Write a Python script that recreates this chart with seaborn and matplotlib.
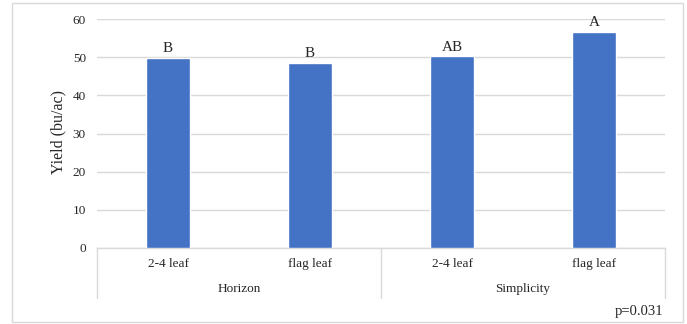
import matplotlib
matplotlib.use("Agg")
import matplotlib.pyplot as plt
import matplotlib.patches as mpatches
import seaborn as sns
import pandas as pd

# date
soiuri = ["Horizon", "Horizon", "Simplicity", "Simplicity"]
stadii = ["2-4 leaf", "flag leaf", "2-4 leaf", "flag leaf"]
randament = [49.9, 48.4, 50.2, 56.7]
litere = ["B", "B", "AB", "A"]
grupuri = ["Horizon", "Simplicity"]
p_text = "p=0.031"

df = pd.DataFrame({"soi": soiuri, "stadiu": stadii, "yield": randament})
df["cheie"] = df["soi"] + " " + df["stadiu"]

sns.set_style("white")
plt.rcParams["font.family"] = ["Liberation Serif", "DejaVu Serif"]

fig = plt.figure(figsize=(6.87, 3.24), dpi=100)
ax = fig.add_axes([97 / 687, 76 / 324, 568 / 687, 229 / 324])

sns.barplot(data=df, x="cheie", y="yield", color="#4472C4", width=0.31,
            saturation=1, ax=ax, zorder=3)

ax.set_ylim(0, 60)
ax.set_yticks(range(0, 61, 10))
ax.grid(axis="y", color="#d9d9d9", linewidth=1, zorder=0)
for s in ["top", "right", "left"]:
    ax.spines[s].set_visible(False)
ax.spines["bottom"].set_color("#d9d9d9")
ax.spines["bottom"].set_linewidth(1)
ax.set_xlim(-0.5, len(stadii) - 0.5)

ax.set_xticks(range(len(stadii)))
ax.set_xticklabels(stadii, fontsize=9.5)
ax.tick_params(axis="x", length=0, pad=7, colors="#262626")
ax.tick_params(axis="y", length=0, pad=8, labelsize=9.5, colors="#262626")
ax.set_xlabel("")
ax.set_ylabel("Yield (bu/ac)", fontsize=11.5, color="#262626")
ax.yaxis.set_label_coords(-0.054, 0.507)

# litere de semnificatie
for i, (v, l) in enumerate(zip(df["yield"], litere)):
    ax.annotate(l, (i, v), xytext=(0, 2), textcoords="offset points",
                ha="center", va="bottom", fontsize=11, color="#262626")

# axa pe doua niveluri
tr = ax.get_xaxis_transform()
for x in [-0.5, 1.5, 3.5]:
    ax.plot([x, x], [0, -0.218], transform=tr, color="#d9d9d9",
            linewidth=1, clip_on=False)
for j, g in enumerate(grupuri):
    ax.text(2 * j + 0.5, -0.179, g, transform=tr, ha="center", va="center",
            fontsize=9.5, color="#262626")

# chenar exterior si valoarea p
fig.patches.append(mpatches.Rectangle((12 / 687, 2 / 324), 671 / 687, 319 / 324,
                                      transform=fig.transFigure, fill=False,
                                      edgecolor="#d9d9d9", linewidth=1))
fig.text(663 / 687, 12 / 324, p_text, ha="right", va="center",
         fontsize=10.5, color="#262626")

fig.savefig("out.png", dpi=100)
